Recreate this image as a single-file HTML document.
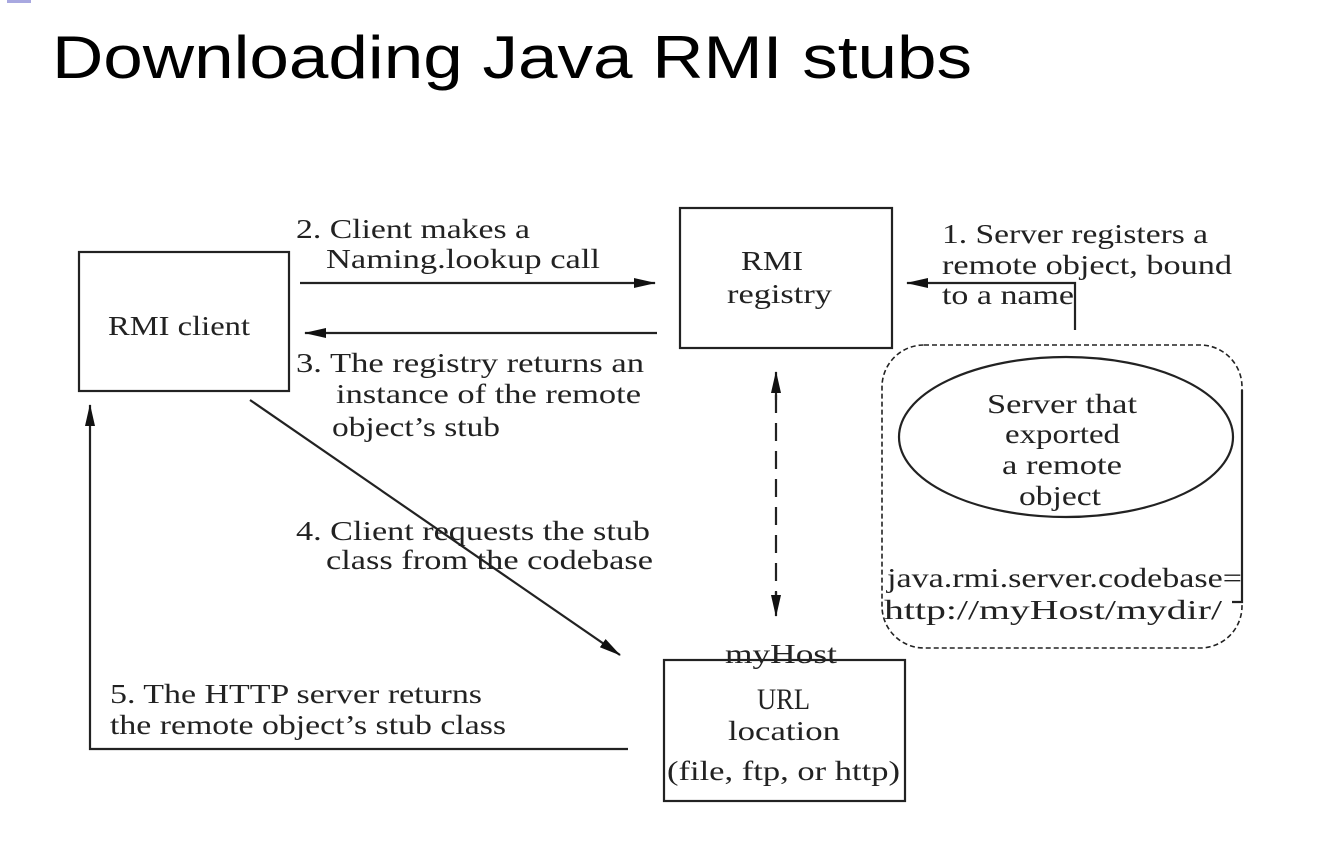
<!DOCTYPE html>
<html><head><meta charset="utf-8"><style>
html,body{margin:0;padding:0;background:#fff;width:1323px;height:855px;overflow:hidden}
svg{display:block}
.t{font-family:"Liberation Serif",serif;font-size:27px;fill:#222}
</style></head><body>
<svg width="1323" height="855" viewBox="0 0 1323 855" xmlns="http://www.w3.org/2000/svg">
<defs>
<marker id="b" markerWidth="22" markerHeight="12" refX="21" refY="6" orient="auto" markerUnits="userSpaceOnUse"><path d="M0,1 L22,6 L0,11 Z" fill="#111"/></marker>
</defs>
<rect x="7" y="0" width="24" height="3" fill="#a8a8e0"/>
<text x="52" y="78" font-family="'Liberation Sans',sans-serif" font-size="60" fill="#000" textLength="920" lengthAdjust="spacingAndGlyphs">Downloading Java RMI stubs</text>
<g fill="none" stroke="#222" stroke-width="2.2">
<rect x="79" y="252" width="210" height="139"/>
<rect x="680" y="208" width="212" height="140"/>
<rect x="664" y="660" width="241" height="141"/>
<rect x="882" y="345" width="360" height="303" rx="42" stroke-dasharray="5,3" stroke-width="1.6"/>
<ellipse cx="1066" cy="437" rx="167" ry="80"/>
<polyline points="1242,390 1242,602 1232,602"/>
<line x1="300" y1="283" x2="655" y2="283" marker-end="url(#b)"/>
<line x1="657" y1="333" x2="305" y2="333" marker-end="url(#b)"/>
<polyline points="1075,330 1075,283 907,283" marker-end="url(#b)"/>
<line x1="776" y1="395" x2="776" y2="598" stroke-dasharray="18,10"/>
<line x1="776" y1="400" x2="776" y2="372" marker-end="url(#b)"/>
<line x1="776" y1="592" x2="776" y2="616" marker-end="url(#b)"/>
<line x1="250" y1="400" x2="620" y2="655" marker-end="url(#b)"/>
<polyline points="628,749 90,749 90,405" marker-end="url(#b)"/>
</g>
<g class="t">
<text x="108" y="335" textLength="142" lengthAdjust="spacingAndGlyphs">RMI client</text>
<text x="741" y="270" textLength="62" lengthAdjust="spacingAndGlyphs">RMI</text>
<text x="727" y="303" textLength="105" lengthAdjust="spacingAndGlyphs">registry</text>
<text x="296" y="238" textLength="234" lengthAdjust="spacingAndGlyphs">2. Client makes a</text>
<text x="326" y="268" textLength="274" lengthAdjust="spacingAndGlyphs">Naming.lookup call</text>
<text x="296" y="372" textLength="348" lengthAdjust="spacingAndGlyphs">3. The registry returns an</text>
<text x="336" y="403" textLength="305" lengthAdjust="spacingAndGlyphs">instance of the remote</text>
<text x="332" y="436" textLength="168" lengthAdjust="spacingAndGlyphs">object’s stub</text>
<text x="942" y="243" textLength="266" lengthAdjust="spacingAndGlyphs">1. Server registers a</text>
<text x="942" y="274" textLength="290" lengthAdjust="spacingAndGlyphs">remote object, bound</text>
<text x="942" y="304" textLength="132" lengthAdjust="spacingAndGlyphs">to a name</text>
<text x="987" y="413" textLength="150" lengthAdjust="spacingAndGlyphs">Server that</text>
<text x="1005" y="443" textLength="115" lengthAdjust="spacingAndGlyphs">exported</text>
<text x="1002" y="474" textLength="120" lengthAdjust="spacingAndGlyphs">a remote</text>
<text x="1019" y="505" textLength="82" lengthAdjust="spacingAndGlyphs">object</text>
<text x="887" y="587" textLength="355" lengthAdjust="spacingAndGlyphs">java.rmi.server.codebase=</text>
<text x="884" y="619" textLength="338" lengthAdjust="spacingAndGlyphs">http://myHost/mydir/</text>
<text x="296" y="540" textLength="354" lengthAdjust="spacingAndGlyphs">4. Client requests the stub</text>
<text x="326" y="569" textLength="327" lengthAdjust="spacingAndGlyphs">class from the codebase</text>
<text x="725" y="663" textLength="112" lengthAdjust="spacingAndGlyphs">myHost</text>
<text x="757" y="709" font-size="30" textLength="53" lengthAdjust="spacingAndGlyphs">URL</text>
<text x="728" y="740" textLength="112" lengthAdjust="spacingAndGlyphs">location</text>
<text x="667" y="780" textLength="233" lengthAdjust="spacingAndGlyphs">(file, ftp, or http)</text>
<text x="110" y="703" textLength="372" lengthAdjust="spacingAndGlyphs">5. The HTTP server returns</text>
<text x="110" y="734" textLength="396" lengthAdjust="spacingAndGlyphs">the remote object’s stub class</text>
</g>
</svg>
</body></html>
